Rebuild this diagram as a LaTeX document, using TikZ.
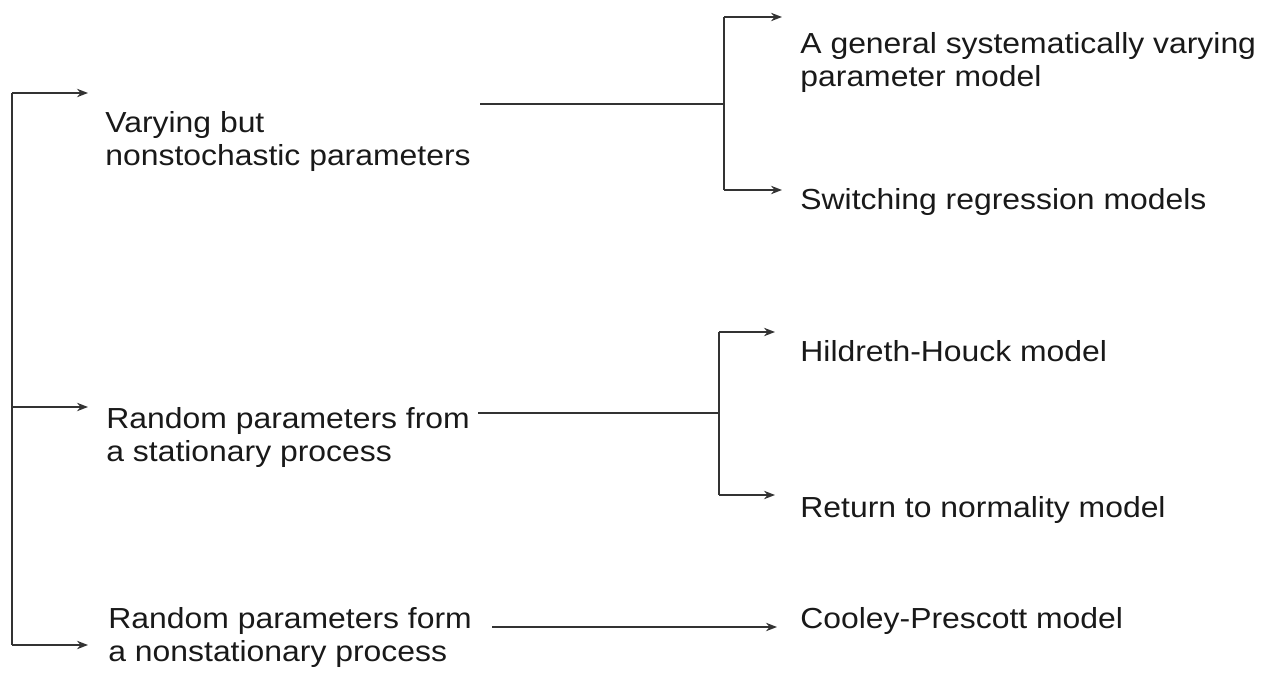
\documentclass[tikz,border=0pt]{standalone}
\usepackage{fontspec}
\setmainfont[FakeStretch=1.1]{Liberation Sans}
\usetikzlibrary{arrows.meta}
\tikzset{
  lbl/.style={anchor=base west,inner sep=0pt,align=left,text=black!90,
    font=\fontsize{14.5}{16.5}\selectfont},
  link/.style={draw=black!80,line width=0.8pt},
  arr/.style={link,-{Stealth[length=5.5pt,width=4.2pt]}}
}

\begin{document}
\begin{tikzpicture}[x=0.5pt,y=-0.5pt]
    \useasboundingbox (0,0) rectangle (1274,673);
    % left bracket
    \coordinate (a1) at (12,93);
    \coordinate (a2) at (12,407);
    \coordinate (a3) at (12,645);
    \coordinate (t1) at (88,93);
    \coordinate (t2) at (88,407);
    \coordinate (t3) at (88,645);
    \draw[link] (a1) -- (a3);
    \draw[arr] (a1) -- (t1);
    \draw[arr] (a2) -- (t2);
    \draw[arr] (a3) -- (t3);
    % base is the last line
    \node[lbl] (vary) at (105,166) {Varying but\\nonstochastic parameters};
    \node[lbl] (rstat) at (106,461) {Random parameters from\\a stationary process};
    \node[lbl] (rnon) at (108,661) {Random parameters form\\a nonstationary process};
    % first branch
    \coordinate (b0) at (480,104);
    \coordinate (bm) at (724,104);
    \coordinate (b1) at (724,17);
    \coordinate (b2) at (724,190);
    \coordinate (bt1) at (782,17);
    \coordinate (bt2) at (782,190);
    \draw[link] (b0) -- (bm);
    \draw[link] (b1) -- (b2);
    \draw[arr] (b1) -- (bt1);
    \draw[arr] (b2) -- (bt2);
    \node[lbl] (gen) at (800,87) {A general systematically varying\\parameter model};
    \node[lbl] (sw) at (800,210) {Switching regression models};
    % second branch
    \coordinate (c0) at (478,413);
    \coordinate (cm) at (719,413);
    \coordinate (c1) at (719,332);
    \coordinate (c2) at (719,495);
    \coordinate (ct1) at (775,332);
    \coordinate (ct2) at (775,495);
    \draw[link] (c0) -- (cm);
    \draw[link] (c1) -- (c2);
    \draw[arr] (c1) -- (ct1);
    \draw[arr] (c2) -- (ct2);
    \node[lbl] (hh) at (800,362) {Hildreth-Houck model};
    \node[lbl] (ret) at (800,517) {Return to normality model};
    % third branch
    \coordinate (d0) at (492,627);
    \coordinate (d1) at (777,627);
    \draw[arr] (d0) -- (d1);
    \node[lbl] (cp) at (800,628) {Cooley-Prescott model};
\end{tikzpicture}
\end{document}
